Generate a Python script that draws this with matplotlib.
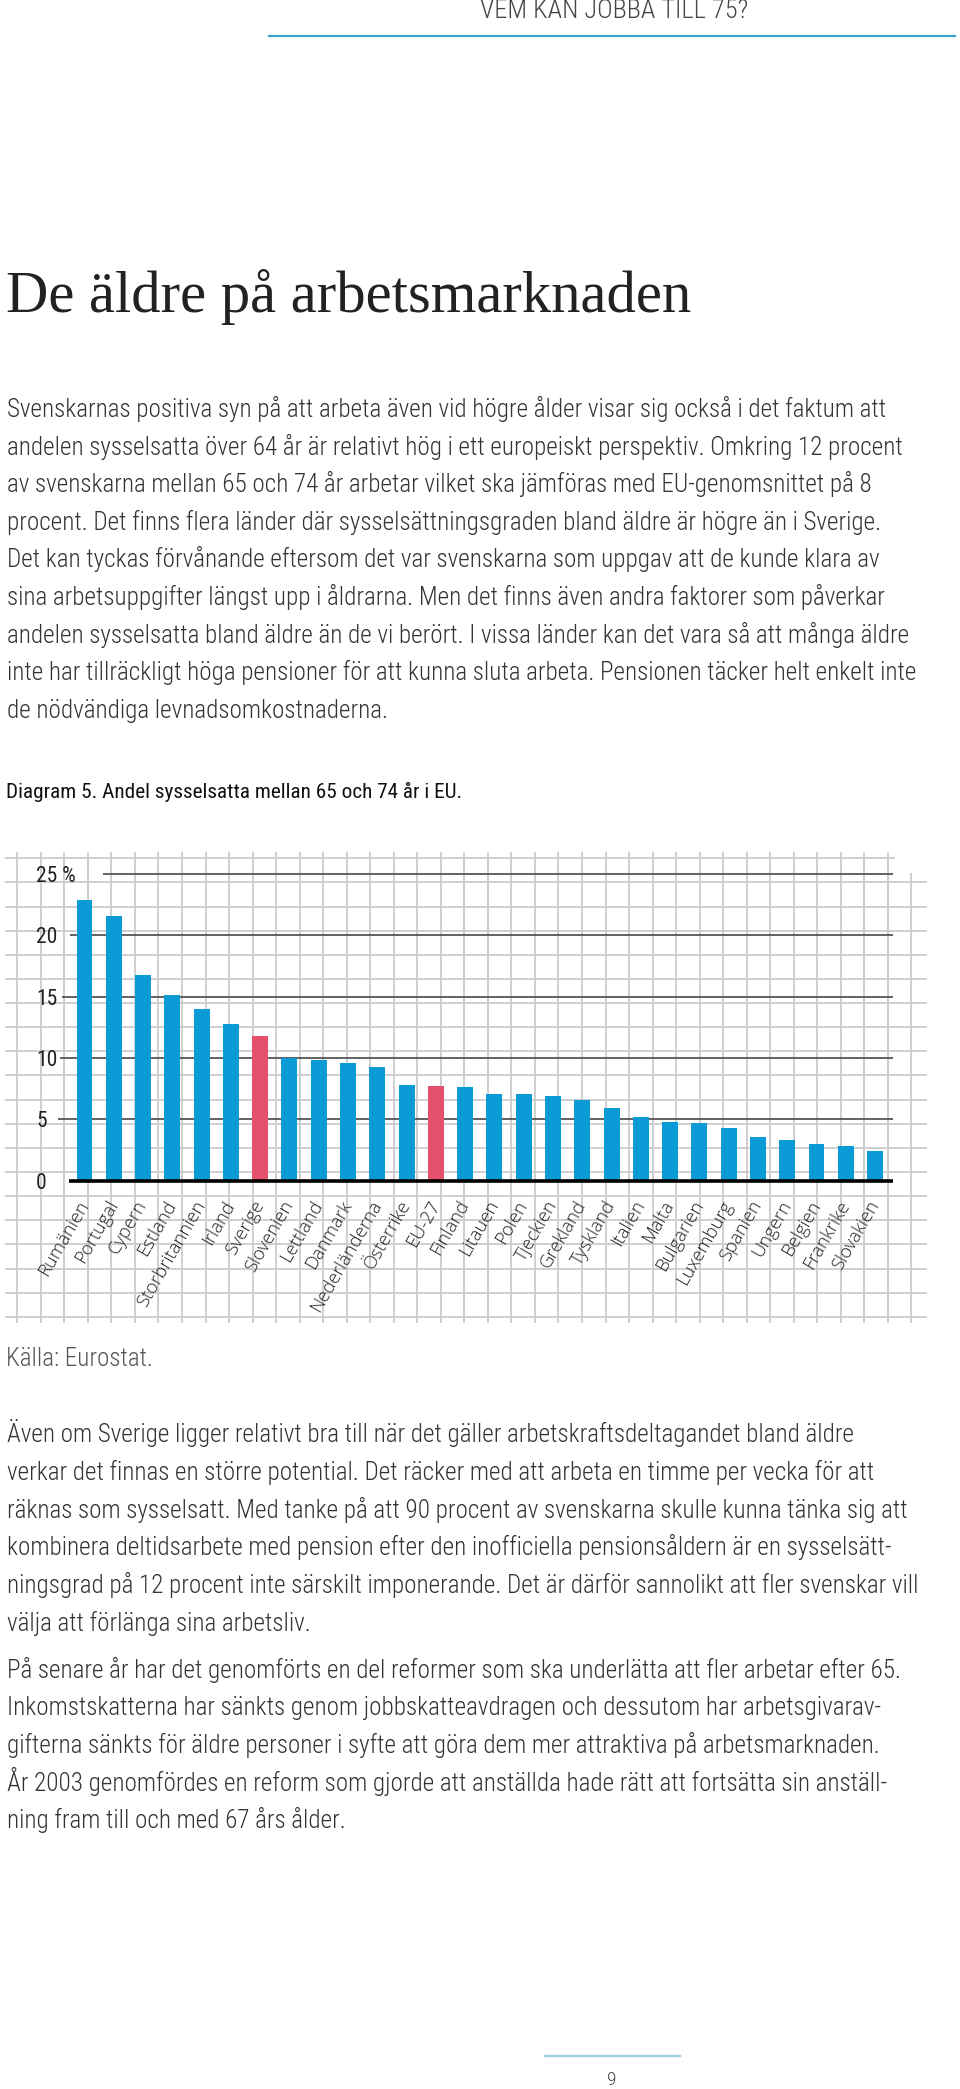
import matplotlib
matplotlib.use('Agg')
import numpy as np
import matplotlib.pyplot as plt
from matplotlib import font_manager

# Andel sysselsatta 65-74 år, Eurostat
countries = ['Rumänien', 'Portugal', 'Cypern', 'Estland', 'Storbritannien', 'Irland',
             'Sverige', 'Slovenien', 'Lettland', 'Danmark', 'Nederländerna', 'Österrike',
             'EU-27', 'Finland', 'Litauen', 'Polen', 'Tjeckien', 'Grekland', 'Tyskland',
             'Italien', 'Malta', 'Bulgarien', 'Luxemburg', 'Spanien', 'Ungern', 'Belgien',
             'Frankrike', 'Slovakien']
share = [22.9, 21.6, 16.8, 15.1, 14.0, 12.8, 11.8, 10.0, 9.8, 9.6, 9.3, 7.8,
         7.7, 7.6, 7.1, 7.1, 6.9, 6.6, 5.9, 5.2, 4.8, 4.7, 4.3, 3.6, 3.3, 3.0,
         2.8, 2.4]
highlight = ['Sverige', 'EU-27']
yticks = [0, 5, 10, 15, 20, 25]
ytick_labels = ['0', '5', '10', '15', '20', '25 %']

header = 'VEM KAN JOBBA TILL 75?'
title = 'De äldre på arbetsmarknaden'
caption = 'Diagram 5. Andel sysselsatta mellan 65 och 74 år i EU.'
source = 'Källa: Eurostat.'
page_no = '9'

para1 = [
    'Svenskarnas positiva syn på att arbeta även vid högre ålder visar sig också i det faktum att',
    'andelen sysselsatta över 64 år är relativt hög i ett europeiskt perspektiv. Omkring 12 procent',
    'av svenskarna mellan 65 och 74 år arbetar vilket ska jämföras med EU-genomsnittet på 8',
    'procent. Det finns flera länder där sysselsättningsgraden bland äldre är högre än i Sverige.',
    'Det kan tyckas förvånande eftersom det var svenskarna som uppgav att de kunde klara av',
    'sina arbetsuppgifter längst upp i åldrarna. Men det finns även andra faktorer som påverkar',
    'andelen sysselsatta bland äldre än de vi berört. I vissa länder kan det vara så att många äldre',
    'inte har tillräckligt höga pensioner för att kunna sluta arbeta. Pensionen täcker helt enkelt inte',
    'de nödvändiga levnadsomkostnaderna.',
]
para2 = [
    'Även om Sverige ligger relativt bra till när det gäller arbetskraftsdeltagandet bland äldre',
    'verkar det finnas en större potential. Det räcker med att arbeta en timme per vecka för att',
    'räknas som sysselsatt. Med tanke på att 90 procent av svenskarna skulle kunna tänka sig att',
    'kombinera deltidsarbete med pension efter den inofficiella pensionsåldern är en sysselsätt-',
    'ningsgrad på 12 procent inte särskilt imponerande. Det är därför sannolikt att fler svenskar vill',
    'välja att förlänga sina arbetsliv.',
]
para3 = [
    'På senare år har det genomförts en del reformer som ska underlätta att fler arbetar efter 65.',
    'Inkomstskatterna har sänkts genom jobbskatteavdragen och dessutom har arbetsgivarav-',
    'gifterna sänkts för äldre personer i syfte att göra dem mer attraktiva på arbetsmarknaden.',
    'År 2003 genomfördes en reform som gjorde att anställda hade rätt att fortsätta sin anställ-',
    'ning fram till och med 67 års ålder.',
]

# fonts - pick what is there
names = {f.name for f in font_manager.fontManager.ttflist}
def pick(*cands):
    for c in cands:
        if c in names:
            return c
    return 'DejaVu Sans'

narrow = pick('Liberation Sans Narrow', 'Roboto Condensed', 'Open Sans Condensed', 'Liberation Sans')
serif = pick('Liberation Serif', 'DejaVu Serif')
label_font = pick('Open Sans', 'Noto Sans', 'DejaVu Sans')

blue = '#0a9ad6'
red = '#e6506f'
body_col = '#333333'

W, H = 960, 2089
fig = plt.figure(figsize=(W / 100, H / 100), dpi=100)
bg = fig.add_axes([0, 0, 1, 1])
bg.set_xlim(0, W)
bg.set_ylim(H, 0)
bg.axis('off')
renderer = fig.canvas.get_renderer()

def fit(objs, ref, target):
    # scale a group of texts so that the ref text gets the target pixel width
    w = ref.get_window_extent(renderer).width
    for t in objs:
        t.set_fontsize(t.get_fontsize() * target / w)

# header
t = bg.text(480, 18, header, family=narrow, fontsize=20, fontweight='light',
            color='#444444', va='baseline')
fit([t], t, 268)
bg.plot([269, 955], [36, 36], color='#3aa3c8', lw=1.6)

# title
t = bg.text(6, 312, title, family=serif, fontsize=40, color='#222222', va='baseline')
fit([t], t, 684)

# body text
body = []
def paragraph(lines, y0, step):
    out = []
    for i, s in enumerate(lines):
        out.append(bg.text(7, y0 + i * step, s, family=narrow, fontsize=14, fontweight='light',
                           color=body_col, va='baseline'))
    body.extend(out)
    return out

p1 = paragraph(para1, 417, 37.6)
paragraph(para2, 1442, 37.8)
paragraph(para3, 1678, 37.5)
src = bg.text(6, 1366, source, family=narrow, fontsize=14, fontweight='light',
              color='#555555', va='baseline')
fit(body + [src], p1[7], 911)

cap = bg.text(6, 798, caption, family=narrow, fontsize=14, fontweight='normal',
              color='#111111', va='baseline')
fit([cap], cap, 459)

# graph paper grid behind the chart
vx = 17.3 + 23.53 * np.arange(39)
hy = 858.3 + 24.13 * np.arange(20)
grid_kw = dict(color='#cccccc', lw=1.3, zorder=0)
bg.vlines(vx[:-1], 852, 1323, **grid_kw)
bg.vlines(vx[-1], 873, 1323, **grid_kw)
bg.hlines(hy[1:], 5, 927, **grid_kw)
bg.hlines(hy[0], 5, 895, **grid_kw)

# chart axes (pixel frame of the plot area)
pitch, x0 = 29.28, 84.5
left_px, right_px = x0 - 0.5 * pitch, 893
bot_px, top_px = 1180.7, 874
cax = fig.add_axes([left_px / W, 1 - bot_px / H, (right_px - left_px) / W, (bot_px - top_px) / H])
cax.patch.set_alpha(0)
for s in cax.spines.values():
    s.set_visible(False)
xr = (right_px - x0) / pitch
cax.set_xlim(-0.5, xr)
cax.set_ylim(0, 25)

colors = [red if c in highlight else blue for c in countries]
cax.bar(range(len(countries)), share, width=0.546, color=colors, zorder=2)

# value rules start just right of their labels
rule_start = [58, 60, 62, 70, 103]
for v, sx in zip(yticks[1:], rule_start):
    cax.hlines(v, (sx - x0) / pitch, xr, color='#555555', lw=1.3, clip_on=False, zorder=1)
cax.hlines(0, -0.53, xr, color='black', lw=2.6, clip_on=False, zorder=3)

cax.set_yticks(yticks, ytick_labels)
cax.tick_params(axis='y', length=0, pad=(left_px - 36) * 0.72)
for lbl in cax.get_yticklabels():
    lbl.set_ha('left')
    lbl.set_family(narrow)
    lbl.set_fontsize(15.5)
    lbl.set_color('#222222')

cax.set_xticks(range(len(countries)), countries, rotation=60, ha='right', va='center',
               rotation_mode='anchor', family=label_font, fontsize=13.2, fontweight='light',
               color='#222222')
cax.tick_params(axis='x', length=0, pad=21 * 0.72)

# footer
bg.plot([545, 680], [2056, 2056], color='#9fd0e0', lw=1.6)
t = bg.text(612, 2085, page_no, family=narrow, fontsize=14, fontweight='light',
            color='#444444', ha='center', va='baseline')

fig.savefig('out.png', dpi=100)
